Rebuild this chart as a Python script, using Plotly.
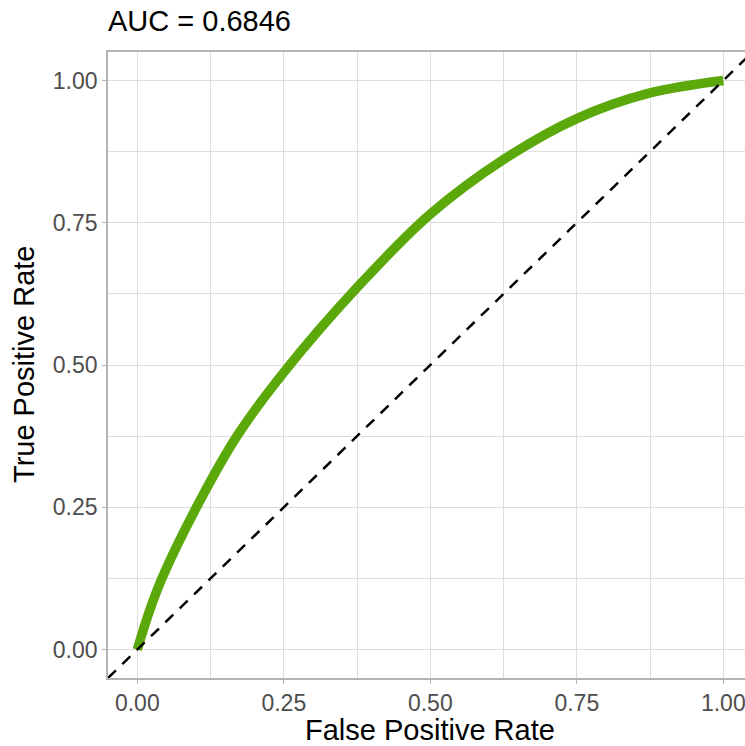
import plotly.graph_objects as go

# ROC curve points (false positive rate, true positive rate)
fpr = [0.0, 0.019, 0.042, 0.101, 0.170, 0.250, 0.375, 0.500, 0.625,
       0.750, 0.875, 1.0]
tpr = [0.0, 0.0625, 0.125, 0.250, 0.375, 0.487, 0.636, 0.765, 0.861,
       0.933, 0.978, 1.0]

auc_value = 0.6846
tick_vals = [0.0, 0.25, 0.5, 0.75, 1.0]
tick_text = ["0.00", "0.25", "0.50", "0.75", "1.00"]
ref_line = [-0.05, 1.05]

FONT = "Liberation Sans, Arial, sans-serif"
GRID = "#DEDEDE"
BORDER = "#B3B3B3"

fig = go.Figure()

fig.add_trace(go.Scatter(
    x=fpr, y=tpr, mode="lines",
    line=dict(color="#5BA80B", width=9.5, shape="spline"),
    hoverinfo="skip", showlegend=False,
))

# chance diagonal across the whole panel
fig.add_trace(go.Scatter(
    x=ref_line, y=ref_line, mode="lines",
    line=dict(color="black", width=2.5, dash="11px,9px"),
    hoverinfo="skip", showlegend=False,
))

W, H = 745, 746
L, R, T, B = 108, 0, 52, 67.5
plot_w = W - L - R
unit_x = 586.0
x_max = -0.05 + plot_w / unit_x

axis_common = dict(
    tickvals=tick_vals, ticktext=tick_text,
    showgrid=True, gridcolor=GRID, gridwidth=1.1,
    minor=dict(dtick=0.125, tick0=0, showgrid=True, gridcolor=GRID,
               gridwidth=0.6, ticks=""),
    zeroline=False,
    showline=True, linecolor=BORDER, linewidth=1.6,
    ticks="outside", ticklen=4, tickcolor=BORDER, tickwidth=1,
    tickfont=dict(size=23, color="#4D4D4D"),
)

fig.update_layout(
    width=W, height=H,
    margin=dict(l=L, r=R, t=T, b=B, pad=0),
    paper_bgcolor="white", plot_bgcolor="white",
    font=dict(family=FONT, color="#4D4D4D"),
    title=dict(
        text=f"AUC = {auc_value:.4f}",
        x=L / W, xanchor="left", xref="container",
        y=1 - 21 / H, yanchor="middle", yref="container",
        font=dict(family=FONT, size=29, color="black"),
    ),
    xaxis=dict(range=[-0.05, x_max], mirror=True,
               ticklabeloverflow="allow", **axis_common),
    yaxis=dict(range=[-0.05, 1.05], mirror=False, **axis_common),
    annotations=[
        dict(text="False Positive Rate", xref="x", x=0.5,
             yref="paper", y=-(731 - 678.5) / 627, yanchor="middle",
             showarrow=False, font=dict(family=FONT, size=29, color="black")),
        dict(text="True Positive Rate", xref="paper", x=-(L - 24) / plot_w,
             xanchor="center", yref="y", y=0.5, yanchor="middle",
             textangle=-90, showarrow=False,
             font=dict(family=FONT, size=29, color="black")),
    ],
)

fig.write_html("out.html")
